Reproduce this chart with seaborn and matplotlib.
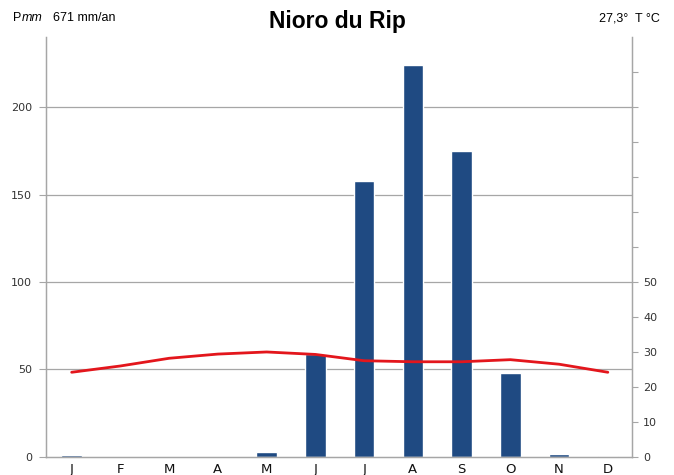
import matplotlib
matplotlib.use("Agg")
import matplotlib.pyplot as plt
import seaborn as sns
import pandas as pd
import numpy as np

months = ["J", "F", "M", "A", "M", "J", "J", "A", "S", "O", "N", "D"]
precip_mm = [1, 0, 0, 0, 3, 59, 158, 224, 175, 48, 1.5, 0.8]
temp_c = [24.2, 26.0, 28.2, 29.4, 30.0, 29.3, 27.5, 27.2, 27.2, 27.8, 26.5, 24.2]
p_ticks = [0, 50, 100, 150, 200]
t_ticks = [0, 10, 20, 30, 40, 50, 60, 70, 80, 90, 100, 110]
t_labels = ["0", "10", "20", "30", "40", "50", "", "", "", "", "", ""]

df = pd.DataFrame({"idx": list(range(12)), "P": precip_mm, "T": temp_c})

sns.set_style("white")
plt.rcParams["font.family"] = ["DejaVu Sans"]

fig = plt.figure(figsize=(6.74, 4.75), dpi=100)
ax = fig.add_axes([0.068, 0.038, 0.870, 0.884])

for v in p_ticks[1:]:
    ax.axhline(v, color="#a6a6a6", lw=0.9, zorder=0)

sns.barplot(data=df, x="idx", y="P", color="#1F4A82", width=0.42,
            saturation=1, ax=ax, zorder=2)
ax.set_xlim(-0.53, 11.5)
ax.set_ylim(0, 240)
ax.set_yticks(p_ticks)
ax.set_yticklabels([str(v) for v in p_ticks], fontsize=8, color="#333333")
ax.set_xticks(range(12))
ax.set_xticklabels(months, fontsize=9.5, color="#111111")
ax.set_xticks(np.arange(0.5, 11.5, 1), minor=True)
ax.tick_params(axis="x", which="major", length=0, pad=4)
ax.tick_params(axis="x", which="minor", length=4, color="#a6a6a6", direction="out")
ax.tick_params(axis="y", length=5, color="#a6a6a6", direction="out", pad=5)
ax.set_xlabel("")
ax.set_ylabel("")
for s in ["left", "right", "bottom"]:
    ax.spines[s].set_color("#a6a6a6")
    ax.spines[s].set_linewidth(1.0)
ax.spines["top"].set_visible(False)

ax2 = ax.twinx()
sns.lineplot(data=df, x="idx", y="T", color="#E3161C", lw=2, ax=ax2, zorder=3)
ax2.set_ylim(0, 120)
ax2.set_xlim(-0.53, 11.5)
ax2.set_yticks(t_ticks)
ax2.set_yticklabels(t_labels, fontsize=8, color="#333333")
ax2.tick_params(axis="y", length=4, color="#a6a6a6", direction="out", pad=4)
ax2.set_ylabel("")
ax2.set_xlabel("")
for s in ["left", "right", "bottom"]:
    ax2.spines[s].set_color("#a6a6a6")
ax2.spines["top"].set_visible(False)

fig.text(0.5, 0.955, "Nioro du Rip", ha="center", va="center", color="black",
         fontsize=16.5, fontweight="bold", family="Liberation Sans")
fig.text(0.020, 0.962, "P", ha="left", va="center", fontsize=9, color="black", family="Liberation Sans")
fig.text(0.032, 0.962, "mm", ha="left", va="center", fontsize=9, style="italic", color="black", family="Liberation Sans")
fig.text(0.078, 0.962, "671 mm/an", ha="left", va="center", fontsize=9, color="black", family="Liberation Sans")
fig.text(0.979, 0.962, "27,3°  T °C", ha="right", va="center", fontsize=9, color="black", family="Liberation Sans")

fig.savefig("out.png", dpi=100)
